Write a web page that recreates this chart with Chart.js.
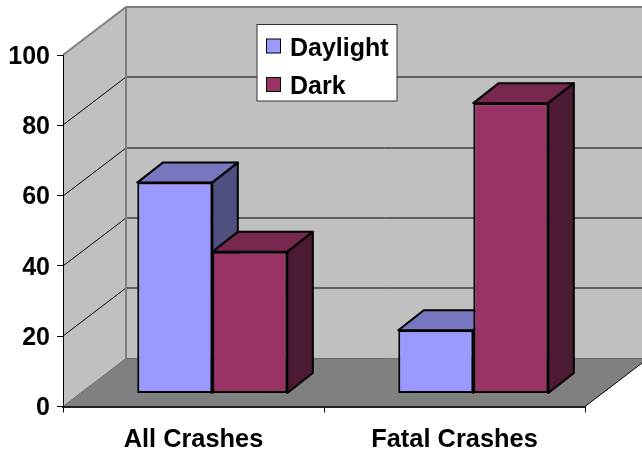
<!DOCTYPE html>
<html>
<head>
<meta charset="utf-8">
<style>
	body { margin: 0; background: #fff; }
	canvas { display: block; }
</style>
<script src="https://cdn.jsdelivr.net/npm/chart.js@4"></script>
</head>
<body>
<canvas id="crashChart" width="642" height="451"></canvas>
<script>
const categories = ['All Crashes', 'Fatal Crashes'];
const daylightValues = [60, 18];
const darkValues = [40.3, 82.6];

const faceColors = {
	Daylight: {front: '#9999ff', top: '#7777bf', side: '#4f4f80'},
	Dark: {front: '#993366', top: '#77284f', side: '#4d1a33'},
};

// The bars stand halfway into the floor, the walls at the full depth
const wallDepth = {x: 63, y: 48};
const barShift = {x: 18.8, y: -13};
const barDepth = {x: 25.5, y: 20};

function polygon(ctx, points, fill, stroke, lineWidth) {
	ctx.beginPath();
	points.forEach((p, i) => (i ? ctx.lineTo(p[0], p[1]) : ctx.moveTo(p[0], p[1])));
	ctx.closePath();
	ctx.fillStyle = fill;
	ctx.fill();
	if (stroke) {
		ctx.strokeStyle = stroke;
		ctx.lineWidth = lineWidth;
		ctx.lineJoin = 'round';
		ctx.stroke();
	}
}

const walls3d = {
	id: 'walls3d',
	beforeDraw(chart) {
		const {ctx, chartArea: {left, right, top, bottom}} = chart;
		const yScale = chart.scales.y;
		const dx = wallDepth.x;
		const dy = wallDepth.y;
		ctx.save();
		// Back wall and left wall
		polygon(ctx, [[left + dx, top - dy], [right + dx, top - dy], [right + dx, bottom - dy], [left + dx, bottom - dy]], '#c0c0c0');
		polygon(ctx, [[left, top], [left + dx, top - dy], [left + dx, bottom - dy], [left, bottom]], '#c0c0c0');
		// Floor
		polygon(ctx, [[left, bottom], [left + dx, bottom - dy], [right + dx, bottom - dy], [right, bottom]], '#808080');

		// Grid lines run across the left wall and the back wall
		ctx.strokeStyle = '#000';
		ctx.lineWidth = 1;
		yScale.ticks.forEach((tick) => {
			if (tick.value === 0 || tick.value === 100) {
				return;
			}
			const y = Math.round(yScale.getPixelForValue(tick.value));
			ctx.beginPath();
			ctx.moveTo(left, y);
			ctx.lineTo(left + dx, y - dy);
			ctx.lineTo(right + dx, y - dy);
			ctx.stroke();
		});

		// Wall edges
		ctx.strokeStyle = '#808080';
		ctx.lineWidth = 2;
		ctx.beginPath();
		ctx.moveTo(left, top);
		ctx.lineTo(left + dx, top - dy);
		ctx.lineTo(right + dx, top - dy);
		ctx.moveTo(left + dx, top - dy);
		ctx.lineTo(left + dx, bottom - dy);
		ctx.stroke();

		// Floor edges
		ctx.lineWidth = 1;
		ctx.strokeStyle = '#6a6a6a';
		ctx.beginPath();
		ctx.moveTo(left, bottom);
		ctx.lineTo(left + dx, bottom - dy);
		ctx.lineTo(right + dx, bottom - dy);
		ctx.stroke();
		ctx.strokeStyle = '#000';
		ctx.beginPath();
		ctx.moveTo(right, bottom);
		ctx.lineTo(right + dx, bottom - dy);
		ctx.stroke();
		ctx.restore();
	},
	beforeDatasetsDraw(chart) {
		// Tops and sides go first, in dataset order, so the dark ones cover the daylight ones
		const {ctx} = chart;
		ctx.save();
		ctx.translate(barShift.x, barShift.y);
		chart.data.datasets.forEach((dataset, i) => {
			const colors = faceColors[dataset.label];
			chart.getDatasetMeta(i).data.forEach((bar) => {
				const l = bar.x - bar.width / 2;
				const r = bar.x + bar.width / 2;
				const dx = barDepth.x;
				const dy = barDepth.y;
				polygon(ctx, [[l, bar.y], [l + dx, bar.y - dy], [r + dx, bar.y - dy], [r, bar.y]], colors.top, '#000', 2);
				polygon(ctx, [[r, bar.y], [r + dx, bar.y - dy], [r + dx, bar.base - dy], [r, bar.base]], colors.side, '#000', 2);
			});
		});
		ctx.restore();
	},
	beforeDatasetDraw(chart) {
		chart.ctx.save();
		chart.ctx.translate(barShift.x, barShift.y);
	},
	afterDatasetDraw(chart) {
		chart.ctx.restore();
	},
	afterDraw(chart) {
		// Legend sits on top of the back wall
		const {ctx} = chart;
		ctx.save();
		ctx.fillStyle = '#fff';
		ctx.fillRect(257, 24.5, 140, 76.5);
		ctx.strokeStyle = '#333';
		ctx.lineWidth = 1;
		ctx.strokeRect(257, 24.5, 140, 76.5);
		chart.data.datasets.forEach((dataset, i) => {
			const rowY = 46 + i * 38.5;
			ctx.fillStyle = dataset.backgroundColor;
			ctx.fillRect(266.5, rowY - 7, 14, 14);
			ctx.strokeStyle = '#000';
			ctx.lineWidth = 1;
			ctx.strokeRect(266.5, rowY - 7, 14, 14);
			ctx.fillStyle = '#000';
			ctx.font = 'bold 25px "Liberation Sans"';
			ctx.textBaseline = 'middle';
			ctx.fillText(dataset.label, 290, rowY + 3);
		});
		ctx.restore();
	},
};

const chart = new Chart(document.getElementById('crashChart'), {
	type: 'bar',
	data: {
		labels: categories,
		datasets: [
			{label: 'Daylight', data: daylightValues, backgroundColor: faceColors.Daylight.front},
			{label: 'Dark', data: darkValues, backgroundColor: faceColors.Dark.front},
		],
	},
	options: {
		responsive: false,
		animation: false,
		layout: {padding: {top: 55, right: 57, left: 0, bottom: 0}},
		datasets: {
			bar: {
				barPercentage: 1,
				categoryPercentage: 0.575,
				borderColor: '#000',
				borderWidth: 2,
				borderSkipped: false,
				clip: false,
			},
		},
		plugins: {
			legend: {display: false}, // Drawn by walls3d, the built-in one cannot sit on the wall
			tooltip: {enabled: false},
		},
		scales: {
			x: {
				afterFit: (scale) => { scale.height = 44.5; },
				grid: {drawOnChartArea: false, offset: true, tickLength: 6, color: '#000'},
				border: {color: '#222', width: 2},
				ticks: {color: '#000', padding: 12, maxRotation: 0, font: {family: '"Liberation Sans"', size: 25.4, weight: 'bold'}},
			},
			y: {
				min: 0,
				max: 100,
				afterFit: (scale) => { scale.width = 63; },
				grid: {drawOnChartArea: false, tickLength: 6, color: '#000'},
				border: {color: '#000', width: 1},
				ticks: {stepSize: 20, color: '#000', padding: 7, labelOffset: 2, font: {family: '"Liberation Sans"', size: 25, weight: 'bold'}},
			},
		},
	},
	plugins: [walls3d],
});
</script>
</body>
</html>
